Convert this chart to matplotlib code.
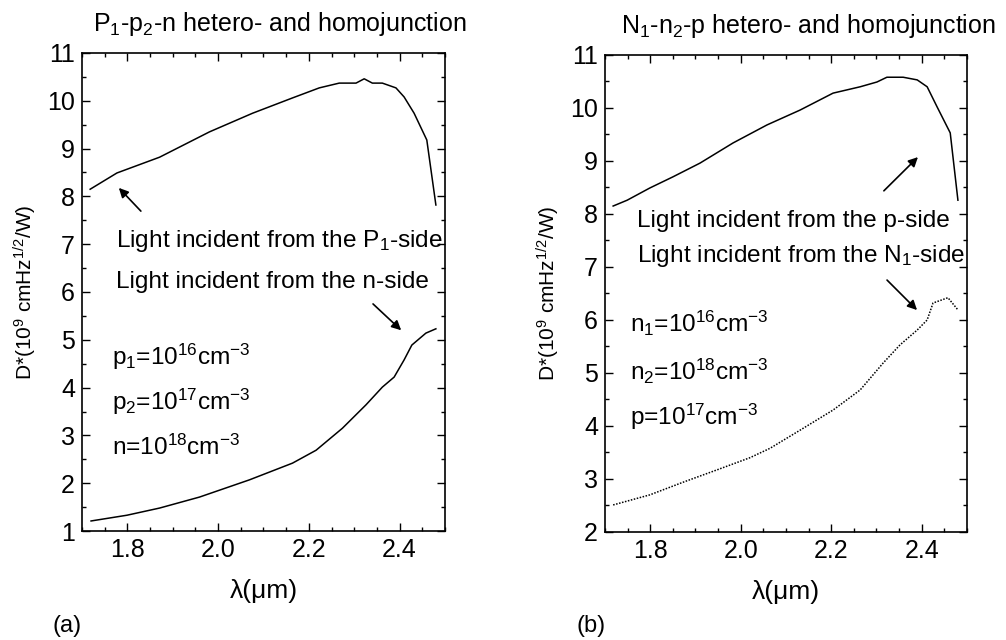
import matplotlib
matplotlib.use("Agg")
import matplotlib.pyplot as plt
from matplotlib.ticker import MultipleLocator

plt.rcParams["font.family"] = ["Liberation Sans", "DejaVu Sans"]
plt.rcParams["mathtext.fontset"] = "custom"
plt.rcParams["mathtext.rm"] = "Liberation Sans"
plt.rcParams["mathtext.default"] = "regular"

# (a) P1-p2-n structure
lam_a_p1 = [1.718, 1.777, 1.871, 1.981, 2.076, 2.164, 2.223, 2.267, 2.304, 2.322,
            2.340, 2.362, 2.392, 2.410, 2.432, 2.460, 2.480]
d_a_p1 = [8.15, 8.49, 8.82, 9.35, 9.74, 10.06, 10.27, 10.37, 10.37, 10.46,
          10.37, 10.37, 10.27, 10.08, 9.74, 9.18, 7.82]
lam_a_n = [1.720, 1.799, 1.871, 1.959, 2.069, 2.164, 2.216, 2.274, 2.326, 2.362,
           2.388, 2.410, 2.427, 2.458, 2.480]
d_a_n = [1.21, 1.33, 1.48, 1.71, 2.07, 2.42, 2.69, 3.15, 3.64, 4.01,
         4.22, 4.58, 4.89, 5.14, 5.23]

# (b) N1-n2-p structure
lam_b_p = [1.718, 1.749, 1.799, 1.850, 1.910, 1.983, 2.058, 2.131, 2.204, 2.264,
           2.301, 2.323, 2.359, 2.390, 2.412, 2.434, 2.463, 2.480]
d_b_p = [8.15, 8.26, 8.49, 8.70, 8.96, 9.34, 9.68, 9.96, 10.28, 10.40,
         10.49, 10.58, 10.58, 10.53, 10.40, 10.02, 9.53, 8.26]
lam_b_n1 = [1.718, 1.799, 1.873, 1.947, 2.020, 2.065, 2.131, 2.204, 2.264, 2.315,
            2.352, 2.390, 2.412, 2.425, 2.458, 2.480]
d_b_n1 = [2.51, 2.70, 2.94, 3.17, 3.40, 3.58, 3.92, 4.30, 4.68, 5.19,
          5.53, 5.81, 6.00, 6.32, 6.42, 6.19]

xticks = [1.8, 2.0, 2.2, 2.4]
xtick_labels = ["1.8", "2.0", "2.2", "2.4"]

fig = plt.figure(figsize=(10.06, 6.4), dpi=100)
ax1 = fig.add_axes([0.0815, 0.1703, 0.3608, 0.7469])
ax2 = fig.add_axes([0.6014, 0.1688, 0.3598, 0.7453])


def style(ax, ymin):
    ax.set_xlim(1.7, 2.5)
    ax.set_ylim(ymin, 11)
    ax.set_xticks(xticks)
    ax.set_xticklabels(xtick_labels)
    ax.xaxis.set_minor_locator(MultipleLocator(0.05))
    ax.yaxis.set_major_locator(MultipleLocator(1))
    ax.yaxis.set_minor_locator(MultipleLocator(0.5))
    ax.tick_params(which="both", direction="in", top=True, right=True,
                   labelsize=18, width=1)
    ax.tick_params(which="major", length=6, pad=5)
    ax.tick_params(which="minor", length=3)
    for s in ax.spines.values():
        s.set_linewidth(1.2)
    ax.set_xlabel("λ(μm)", fontsize=19, labelpad=12)
    ax.set_ylabel("D*(10$^9$ cmHz$^{1/2}$/W)", fontsize=15, labelpad=6)


tsize = 17.6
arrow = dict(arrowstyle="-|>", color="black", lw=1.2, mutation_scale=14)

# panel (a)
ax1.plot(lam_a_p1, d_a_p1, color="black", lw=1.1)
ax1.plot(lam_a_n, d_a_n, color="black", lw=1.1)
style(ax1, 1)
ax1.text(1.776, 6.94, "Light incident from the P$_1$-side", fontsize=tsize, va="baseline")
ax1.text(1.776, 6.08, "Light incident from the n-side", fontsize=tsize, va="baseline")
ax1.text(1.766, 4.47, "p$_1$=10$^{16}$cm$^{-3}$", fontsize=tsize, va="baseline")
ax1.text(1.766, 3.53, "p$_2$=10$^{17}$cm$^{-3}$", fontsize=tsize, va="baseline")
ax1.text(1.766, 2.59, "n=10$^{18}$cm$^{-3}$", fontsize=tsize, va="baseline")
ax1.annotate("", xy=(1.777, 8.22), xytext=(1.834, 7.65), arrowprops=arrow)
ax1.annotate("", xy=(2.408, 5.16), xytext=(2.337, 5.79), arrowprops=arrow)
fig.text(0.278, 0.951, "P$_1$-p$_2$-n hetero- and homojunction", fontsize=18, ha="center")
fig.text(0.052, 0.012, "(a)", fontsize=17)

# panel (b)
ax2.plot(lam_b_p, d_b_p, color="black", lw=1.1)
ax2.plot(lam_b_n1, d_b_n1, color="black", lw=1.1, ls=(0, (1, 1)))
style(ax2, 2)
ax2.text(1.77, 7.76, "Light incident from the p-side", fontsize=tsize, va="baseline")
ax2.text(1.77, 7.1, "Light incident from the N$_1$-side", fontsize=tsize, va="baseline")
ax2.text(1.755, 5.77, "n$_1$=10$^{16}$cm$^{-3}$", fontsize=tsize, va="baseline")
ax2.text(1.755, 4.87, "n$_2$=10$^{18}$cm$^{-3}$", fontsize=tsize, va="baseline")
ax2.text(1.755, 4.02, "p=10$^{17}$cm$^{-3}$", fontsize=tsize, va="baseline")
ax2.annotate("", xy=(2.396, 9.11), xytext=(2.312, 8.40), arrowprops=arrow)
ax2.annotate("", xy=(2.394, 6.15), xytext=(2.319, 6.79), arrowprops=arrow)
fig.text(0.804, 0.948, "N$_1$-n$_2$-p hetero- and homojunction", fontsize=18, ha="center")
fig.text(0.573, 0.012, "(b)", fontsize=17)

fig.savefig("out.png", dpi=100)
